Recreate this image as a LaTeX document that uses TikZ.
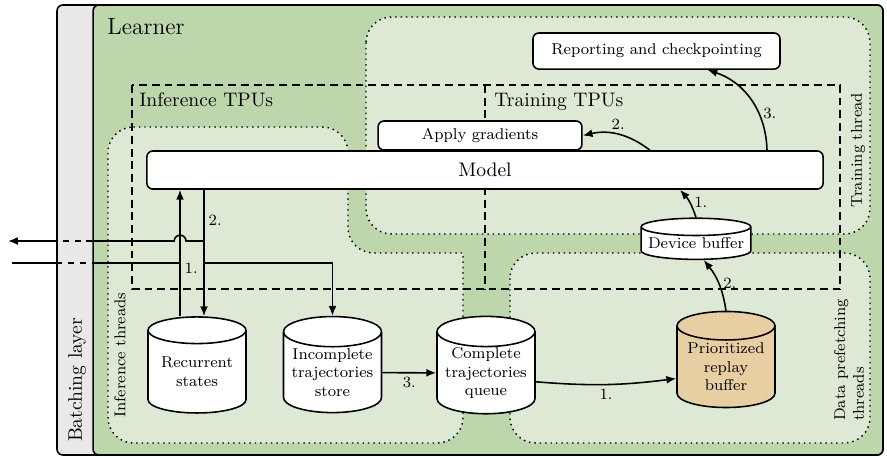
\documentclass[tikz,border=0pt]{standalone}
\usepackage{tikz}
\usetikzlibrary{arrows, arrows.meta, shapes, positioning, calc}

\definecolor{learnergreen}{HTML}{BDD6AC}
\definecolor{threadgreen}{HTML}{DEE9D5}
\definecolor{batchgray}{HTML}{E9E9E9}
\definecolor{replaytan}{HTML}{E8CFA3}

\begin{document}
\begin{tikzpicture}[x=0.5102pt, y=-0.5102pt, >={Latex[length=5pt, width=4pt]},
    box/.style={draw, thick, fill=white, rounded corners=3pt, inner sep=0pt},
    store/.style={draw, thick, fill=white, cylinder, shape border rotate=90, aspect=0.37,
        align=center, font=\footnotesize, minimum width=50pt, minimum height=49pt, inner sep=0pt},
    region/.style={draw, line width=0.75pt, dotted, fill=threadgreen, rounded corners=13pt},
    tpu/.style={draw, semithick, dash pattern=on 4pt off 2.5pt},
    flow/.style={thick, ->},
    lbl/.style={font=\footnotesize, inner sep=2pt}]
    \useasboundingbox (0,0) rectangle (887,457);

    % outer boxes
    \node[draw, thick, fill=batchgray, rounded corners=3pt, minimum width=421.4pt, minimum height=229.6pt, inner sep=0pt] (batch) at (470,230) {};
    \node[draw, thick, fill=learnergreen, rounded corners=3pt, minimum width=403pt, minimum height=229.6pt, inner sep=0pt] (learner) at (488,230) {};

    % thread regions
    \draw[region] (108,127) -- (348,127) -- (348,253) [sharp corners] -- (463,253) [rounded corners=13pt] -- (463,443) -- (108,443) -- cycle;
    \draw[region] (366,17) rectangle (870,234);
    \draw[region] (510,253) rectangle (870,443);

    % TPUs
    \draw[tpu] (132,85) rectangle (840,289);
    \draw[tpu] (485,85) -- (485,289);

    \node[font=\large, anchor=west, inner sep=0pt] (learnerlbl) at (107,27) {Learner};
    \node[rotate=90, inner sep=0pt] (batchlbl) at (77,380) {Batching layer};
    \node[anchor=base west, inner sep=0pt] (inftpu) at (139,106) {Inference TPUs};
    \node[anchor=base west, inner sep=0pt] (traintpu) at (494,106) {Training TPUs};
    \node[rotate=90, font=\footnotesize, inner sep=0pt] (infthr) at (120,355) {Inference threads};
    \node[rotate=90, font=\footnotesize, inner sep=0pt] (trainthr) at (858,150) {Training thread};
    \node[rotate=90, font=\footnotesize, align=left, inner sep=0pt] (datathr) at (849,360) {Data prefetching\\threads};

    % boxes and stores
    \node[box, font=\footnotesize, minimum width=126pt, minimum height=18.4pt] (report) at (656.5,51) {Reporting and checkpointing};
    \node[box, font=\footnotesize, minimum width=104pt, minimum height=14.8pt] (apply) at (480,135.5) {Apply gradients};
    \node[box, minimum width=345pt, minimum height=19.4pt] (model) at (485,170) {Model};
    \node[store, aspect=0.18, minimum width=56pt, minimum height=21pt] (devbuf) at (696,243.5) {Device buffer};
    \node[store] (recur) at (197,372) {Recurrent\\states};
    \node[store] (incomp) at (332.5,372.5) {Incomplete\\trajectories\\store};
    \node[store] (queue) at (486,373) {Complete\\trajectories\\queue};
    \node[store, fill=replaytan] (prio) at (726,367) {Prioritized\\replay\\buffer};

    % inference side
    \coordinate (inpt) at (12,263);
    \coordinate (outpt) at (8,241);
    \coordinate (inL) at (180,263);
    \coordinate (outR) at (204,241);
    \coordinate (midR) at (204,263);

    \draw[flow] (recur.north -| inL) -- node[lbl, pos=0.38, right] {1.} (model.south -| inL);
    \draw[flow] (model.south -| outR) -- node[lbl, pos=0.24, right] {2.} (recur.north -| outR);
    \draw[thick] (inpt) -- (inpt -| batch.west);
    \draw[thick, dashed] (inpt -| batch.west) -- (inpt -| learner.west);
    \draw[thick] (inpt -| learner.west) -- (inL);
    \draw[thick] (outR) -- ($(outR -| inL)+(6,0)$) arc[start angle=0, end angle=180, radius=3pt] -- (outR -| learner.west);
    \draw[thick, dashed] (outR -| learner.west) -- (outR -| batch.west);
    \draw[flow] (outR -| batch.west) -- (outpt);
    \draw[flow] (midR) -| (incomp.north);

    \path[flow] (incomp) edge node[lbl, below] {3.} (queue);
    \path[flow] (queue.-10) edge[bend right=6] node[lbl, below] {1.} (prio.193);

    % training side
    \path[flow] (prio.north) edge[bend right=15] node[lbl, right] {2.} (devbuf.-65);
    \path[flow] (devbuf.north) edge[bend right=12] node[lbl, right] {1.} ($(model.south)+(195,0)$);
    \path[flow] ($(model.north)+(165,0)$) edge[bend right=25] node[lbl, above] {2.} (apply.east);
    \path[flow] ($(model.north)+(282,0)$) edge[bend right=35] node[lbl, right, pos=0.35] {3.} ($(report.south)+(51,0)$);
\end{tikzpicture}
\end{document}
